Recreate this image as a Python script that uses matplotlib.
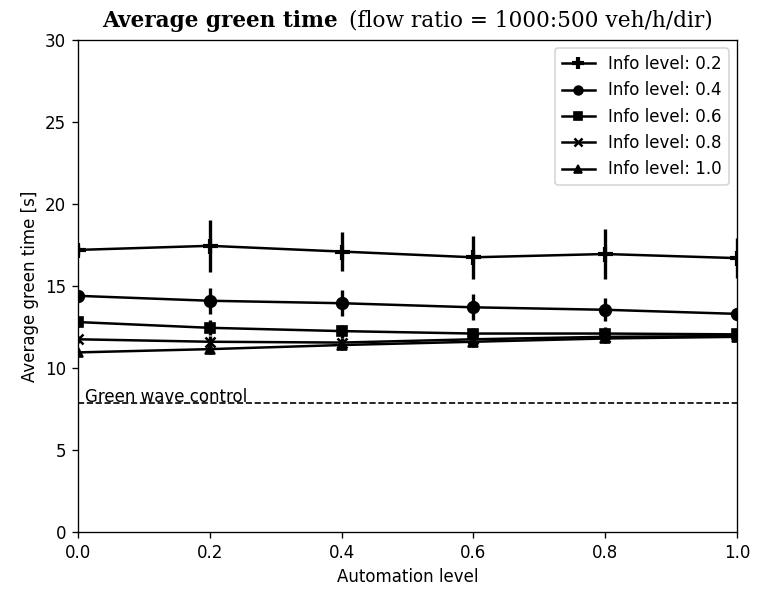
import matplotlib
matplotlib.use("Agg")
import matplotlib.pyplot as plt
from matplotlib.lines import Line2D

# automation level on x, average green time [s] on y
automation = [0.0, 0.2, 0.4, 0.6, 0.8, 1.0]

info_labels = ["Info level: 0.2", "Info level: 0.4", "Info level: 0.6",
               "Info level: 0.8", "Info level: 1.0"]

green_02 = [17.2, 17.45, 17.1, 16.75, 16.95, 16.7]
err_02 = [0.3, 1.6, 1.2, 1.3, 1.5, 1.2]

green_04 = [14.4, 14.1, 13.95, 13.7, 13.55, 13.3]
err_04 = [0.3, 0.8, 0.8, 0.8, 0.7, 0.3]

green_06 = [12.8, 12.45, 12.25, 12.1, 12.1, 12.05]
err_06 = [0.3, 0.45, 0.4, 0.35, 0.4, 0.3]

green_08 = [11.75, 11.6, 11.55, 11.75, 11.9, 11.95]
err_08 = [0.2, 0.35, 0.3, 0.3, 0.3, 0.2]

green_10 = [10.95, 11.15, 11.4, 11.6, 11.8, 11.9]
err_10 = [0.2, 0.3, 0.3, 0.3, 0.3, 0.2]

green_wave = 7.85

series = [green_02, green_04, green_06, green_08, green_10]
errors = [err_02, err_04, err_06, err_08, err_10]
markers = ["+", "o", "s", "x", "^"]
msizes = [9, 7, 6, 6, 6]
mews = [2.5, 1, 1, 1.5, 1]

fig = plt.figure(figsize=(757 / 120, 592 / 120), dpi=120)
ax = fig.add_axes([0.103, 0.1014, 0.8706, 0.831])

handles = []
for y, e, m, ms, mew, lab in zip(series, errors, markers, msizes, mews, info_labels):
    ax.errorbar(automation, y, yerr=e, color="k", marker=m, markersize=ms,
                markeredgewidth=mew, elinewidth=2, capsize=0)
    # legend shows line + marker only, no error bar
    handles.append(Line2D([], [], color="k", marker=m, markersize=ms * 0.75,
                          markeredgewidth=mew, label=lab))

ax.axhline(green_wave, color="k", linestyle="--", linewidth=1)
ax.text(0.01, green_wave - 0.15, "Green wave control", va="bottom", ha="left")

ax.set_xlim(0, 1)
ax.set_ylim(0, 30)
ax.set_xlabel("Automation level")
ax.set_ylabel("Average green time [s]")
ax.legend(handles=handles, loc="upper right")

# two-part serif title (bold name + normal detail), centred over the axes
title_y = 1 - 27 / 592
t1 = fig.text(0, title_y, "Average green time", family="DejaVu Serif",
              fontweight="bold", fontsize=13, ha="left", va="baseline")
t2 = fig.text(0, title_y, "(flow ratio = 1000:500 veh/h/dir)", family="DejaVu Serif",
              fontsize=13, ha="left", va="baseline")
fig.canvas.draw()
w1 = t1.get_window_extent().width
w2 = t2.get_window_extent().width
gap = 12
ax_bb = ax.get_window_extent()
x0 = (ax_bb.x0 + ax_bb.x1) / 2 - (w1 + gap + w2) / 2
t1.set_x(x0 / fig.bbox.width)
t2.set_x((x0 + w1 + gap) / fig.bbox.width)

fig.savefig("out.png", dpi=120)
